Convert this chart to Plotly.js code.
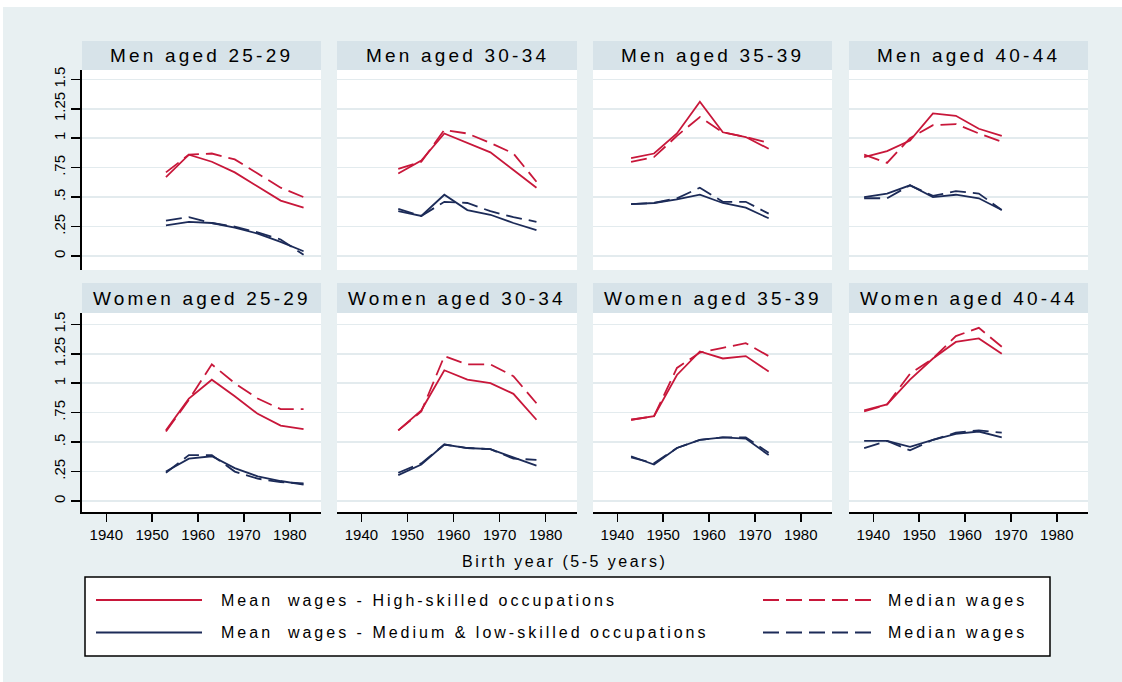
<!DOCTYPE html>
<html><head><meta charset="utf-8">
<script src="https://cdn.plot.ly/plotly-3.0.1.min.js"></script>
<style>
html,body{margin:0;padding:0;background:#fff;}
#chart{width:1122px;height:682px;}
.xtick text{letter-spacing:2px;}
text.annotation-text[data-unformatted*="aged"]{letter-spacing:3.2px;}
text.annotation-text[data-unformatted*="wages"]{letter-spacing:3px;}
text.annotation-text[data-unformatted*="Birth"]{letter-spacing:2.5px;}
</style></head><body><div id="chart"></div>
<script>
// ---- data ----
const panelTitles = ["Men aged 25-29","Men aged 30-34","Men aged 35-39","Men aged 40-44",
                     "Women aged 25-29","Women aged 30-34","Women aged 35-39","Women aged 40-44"];
const years_25_29 = [1953,1958,1963,1968,1973,1978,1983];
const years_30_34 = [1948,1953,1958,1963,1968,1973,1978];
const years_35_39 = [1943,1948,1953,1958,1963,1968,1973];
const years_40_44 = [1938,1943,1948,1953,1958,1963,1968];

const men_25_29_mean_high   = [0.67,0.86,0.80,0.71,0.59,0.47,0.41];
const men_25_29_median_high = [0.71,0.86,0.87,0.82,0.70,0.58,0.50];
const men_25_29_mean_low    = [0.26,0.29,0.28,0.24,0.19,0.12,0.04];
const men_25_29_median_low  = [0.30,0.33,0.28,0.25,0.20,0.14,0.01];

const men_30_34_mean_high   = [0.70,0.81,1.04,0.96,0.88,0.73,0.58];
const men_30_34_median_high = [0.74,0.80,1.07,1.04,0.96,0.87,0.63];
const men_30_34_mean_low    = [0.38,0.34,0.52,0.39,0.35,0.28,0.22];
const men_30_34_median_low  = [0.40,0.34,0.46,0.45,0.38,0.33,0.29];

const men_35_39_mean_high   = [0.83,0.87,1.04,1.31,1.05,1.01,0.91];
const men_35_39_median_high = [0.80,0.84,1.02,1.18,1.05,1.01,0.96];
const men_35_39_mean_low    = [0.44,0.45,0.48,0.52,0.45,0.41,0.32];
const men_35_39_median_low  = [0.44,0.45,0.49,0.58,0.46,0.46,0.36];

const men_40_44_mean_high   = [0.84,0.89,0.98,1.21,1.19,1.08,1.02];
const men_40_44_median_high = [0.86,0.79,1.00,1.11,1.12,1.04,0.97];
const men_40_44_mean_low    = [0.50,0.53,0.60,0.50,0.52,0.49,0.39];
const men_40_44_median_low  = [0.49,0.49,0.60,0.51,0.55,0.53,0.39];

const women_25_29_mean_high   = [0.60,0.87,1.03,0.89,0.74,0.64,0.61];
const women_25_29_median_high = [0.59,0.86,1.16,1.00,0.87,0.78,0.78];
const women_25_29_mean_low    = [0.25,0.36,0.38,0.28,0.21,0.17,0.14];
const women_25_29_median_low  = [0.24,0.39,0.39,0.25,0.19,0.16,0.15];

const women_30_34_mean_high   = [0.60,0.77,1.11,1.03,1.00,0.91,0.69];
const women_30_34_median_high = [0.60,0.76,1.23,1.16,1.16,1.06,0.83];
const women_30_34_mean_low    = [0.22,0.31,0.48,0.45,0.44,0.37,0.30];
const women_30_34_median_low  = [0.24,0.32,0.48,0.45,0.44,0.36,0.35];

const women_35_39_mean_high   = [0.69,0.72,1.07,1.27,1.21,1.23,1.10];
const women_35_39_median_high = [0.69,0.72,1.13,1.26,1.30,1.34,1.23];
const women_35_39_mean_low    = [0.38,0.31,0.45,0.52,0.54,0.53,0.39];
const women_35_39_median_low  = [0.37,0.32,0.45,0.52,0.54,0.54,0.41];

const women_40_44_mean_high   = [0.77,0.82,1.03,1.21,1.35,1.38,1.25];
const women_40_44_median_high = [0.76,0.82,1.08,1.21,1.40,1.47,1.31];
const women_40_44_mean_low    = [0.51,0.51,0.46,0.52,0.57,0.59,0.54];
const women_40_44_median_low  = [0.45,0.51,0.43,0.52,0.58,0.60,0.58];

const yTickVals = [0,0.25,0.5,0.75,1,1.25,1.5];
const yTickText = ["0",".25",".5",".75","1","1.25","1.5"];
const xTickVals = [1940,1950,1960,1970,1980];
const seriesNames = ["Mean  wages - High-skilled occupations","Median wages",
                     "Mean  wages - Medium & low-skilled occupations","Median wages"];
const xAxisTitle = "Birth year (5-5 years)";

// ---- assembly ----
const panels = [
  [years_25_29, men_25_29_mean_high, men_25_29_median_high, men_25_29_mean_low, men_25_29_median_low],
  [years_30_34, men_30_34_mean_high, men_30_34_median_high, men_30_34_mean_low, men_30_34_median_low],
  [years_35_39, men_35_39_mean_high, men_35_39_median_high, men_35_39_mean_low, men_35_39_median_low],
  [years_40_44, men_40_44_mean_high, men_40_44_median_high, men_40_44_mean_low, men_40_44_median_low],
  [years_25_29, women_25_29_mean_high, women_25_29_median_high, women_25_29_mean_low, women_25_29_median_low],
  [years_30_34, women_30_34_mean_high, women_30_34_median_high, women_30_34_mean_low, women_30_34_median_low],
  [years_35_39, women_35_39_mean_high, women_35_39_median_high, women_35_39_mean_low, women_35_39_median_low],
  [years_40_44, women_40_44_mean_high, women_40_44_median_high, women_40_44_mean_low, women_40_44_median_low]
];

const W = 1122, H = 682;
const PX = p => p / W;
const PY = p => 1 - p / H;
const RED = '#c8173a', NAVY = '#1c2b58';
const BG = '#e8f0f2', STRIP = '#d7e3e9', GRID = '#e3ebee';
const FONT = 'Liberation Sans, Arial, sans-serif';
const colsPx = [[82,321],[337,577],[593,832],[849,1088]];
const rowsPx = [[70,270],[313,512]];
const headPx = [[41,70],[283,313]];
const yRanges = [[-0.119,1.579],[-0.093,1.596]];
const styles = [
  {color: RED, dash: 'solid'}, {color: RED, dash: '16px,7px'},
  {color: NAVY, dash: 'solid'}, {color: NAVY, dash: '16px,7px'}
];

const traces = [];
const layout = {
  width: W, height: H, margin: {l:0, r:0, t:0, b:0},
  paper_bgcolor: BG, plot_bgcolor: '#ffffff',
  showlegend: false, font: {family: FONT, color: '#000'},
  shapes: [], annotations: []
};

panels.forEach((p, i) => {
  const row = Math.floor(i / 4), col = i % 4;
  const sfx = i === 0 ? '' : String(i + 1);
  for (let k = 0; k < 4; k++) {
    traces.push({
      type: 'scatter', mode: 'lines', x: p[0], y: p[k + 1],
      xaxis: 'x' + sfx, yaxis: 'y' + sfx, name: seriesNames[k],
      line: {color: styles[k].color, dash: styles[k].dash, width: 1.8},
      hoverinfo: 'skip'
    });
  }
  layout['xaxis' + sfx] = {
    domain: [PX(colsPx[col][0]), PX(colsPx[col][1])],
    range: [1934.7, 1986.8], anchor: 'y' + sfx,
    showgrid: false, zeroline: false,
    showline: row === 1, linecolor: '#000', linewidth: 2,
    ticks: row === 1 ? 'outside' : '', ticklen: 8, tickwidth: 1.5, tickcolor: '#000',
    tickvals: xTickVals, showticklabels: row === 1,
    tickfont: {family: FONT, size: 15, color: '#000'}
  };
  layout['yaxis' + sfx] = {
    domain: [PY(rowsPx[row][1]), PY(rowsPx[row][0])],
    range: yRanges[row], anchor: 'x' + sfx,
    showgrid: true, gridcolor: GRID, gridwidth: 1.5, zeroline: false,
    showline: col === 0, linecolor: '#000', linewidth: 2,
    ticks: col === 0 ? 'outside' : '', ticklen: 9, tickwidth: 1.5, tickcolor: '#000',
    tickvals: yTickVals, ticktext: yTickText, showticklabels: col === 0,
    tickangle: -90, tickfont: {family: FONT, size: 15, color: '#000'}
  };
  // header strip
  layout.shapes.push({type:'rect', xref:'paper', yref:'paper', layer:'below',
    x0: PX(colsPx[col][0]), x1: PX(colsPx[col][1]),
    y0: PY(headPx[row][1]), y1: PY(headPx[row][0]),
    fillcolor: STRIP, line: {width: 0}});
  layout.annotations.push({xref:'paper', yref:'paper', showarrow:false,
    x: PX((colsPx[col][0] + colsPx[col][1]) / 2), y: PY((headPx[row][0] + headPx[row][1]) / 2),
    xanchor:'center', yanchor:'middle', text: panelTitles[i],
    font: {family: FONT, size: 19, color: '#000'}});
});

// white frame strips (top and left edges)
layout.shapes.push({type:'rect', xref:'paper', yref:'paper', layer:'below',
  x0: 0, x1: 1, y0: PY(7), y1: 1, fillcolor: '#ffffff', line: {width: 0}});
layout.shapes.push({type:'rect', xref:'paper', yref:'paper', layer:'below',
  x0: 0, x1: PX(3), y0: 0, y1: 1, fillcolor: '#ffffff', line: {width: 0}});

// x axis title
layout.annotations.push({xref:'paper', yref:'paper', showarrow:false,
  x: PX(564), y: PY(561), xanchor:'center', yanchor:'middle', text: xAxisTitle,
  font: {family: FONT, size: 16, color: '#000'}});

// legend box
layout.shapes.push({type:'rect', xref:'paper', yref:'paper',
  x0: PX(85), x1: PX(1050), y0: PY(656), y1: PY(577),
  fillcolor: '#ffffff', line: {color: '#000', width: 1.5}});
const legRows = [600, 632.5];
const legItems = [
  {row: 0, x0: 96, x1: 202, tx: 219, s: 0},
  {row: 0, x0: 763, x1: 871, tx: 886, s: 1},
  {row: 1, x0: 96, x1: 202, tx: 219, s: 2},
  {row: 1, x0: 763, x1: 871, tx: 886, s: 3}
];
legItems.forEach(it => {
  const st = styles[it.s];
  layout.shapes.push({type:'line', xref:'paper', yref:'paper',
    x0: PX(it.x0), x1: PX(it.x1), y0: PY(legRows[it.row]), y1: PY(legRows[it.row]),
    line: {color: st.color, width: 1.8, dash: st.dash}});
  layout.annotations.push({xref:'paper', yref:'paper', showarrow:false,
    x: PX(it.tx), y: PY(legRows[it.row]), xanchor:'left', yanchor:'middle',
    text: seriesNames[it.s], font: {family: FONT, size: 16, color: '#000'}});
});

Plotly.newPlot('chart', traces, layout, {staticPlot: true, displayModeBar: false});
</script></body></html>
